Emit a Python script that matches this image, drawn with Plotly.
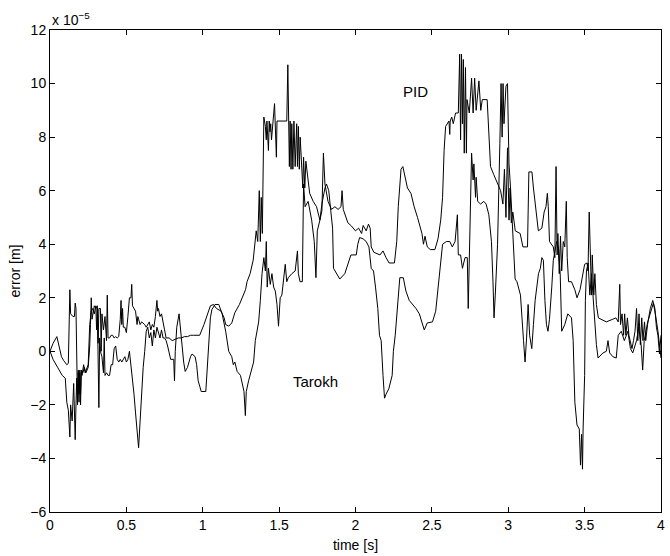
import plotly.graph_objects as go

# time [s], error [x1e-5 m] samples
PID = [(0,0),(0.02,0.3),(0.045,0.55),(0.06,0.2),(0.075,-0.2),(0.09,-0.35),(0.11,-0.5),(0.12,-0.45),(0.125,1.3),(0.13,2.3),(0.135,1.4),(0.15,1.3),(0.16,1.3),(0.165,1.8),(0.17,1.6),(0.175,-0.6),(0.18,-1.9),(0.185,-0.8),(0.19,-1.6),(0.195,-0.7),(0.2,-2.0),(0.205,-0.7),(0.215,-0.8),(0.225,-0.6),(0.235,-0.8),(0.25,-0.6),(0.26,0.2),(0.265,1.0),(0.27,2.0),(0.275,1.2),(0.285,1.5),(0.29,1.7),(0.3,1.6),(0.31,1.7),(0.315,0.3),(0.32,1.6),(0.33,1.6),(0.335,0.0),(0.34,1.4),(0.35,0.8),(0.36,1.3),(0.37,0.4),(0.375,2.1),(0.38,0.5),(0.39,0.5),(0.40,0.6),(0.41,0.6),(0.42,0.5),(0.43,0.55),(0.44,0.5),(0.45,0.55),(0.46,1.2),(0.465,1.9),(0.47,1.0),(0.475,1.6),(0.48,0.9),(0.49,0.9),(0.50,0.7),(0.51,1.3),(0.52,2.0),(0.53,2.0),(0.535,2.5),(0.54,1.7),(0.55,1.6),(0.56,1.5),(0.57,1.0),(0.575,1.3),(0.58,1.2),(0.59,1.0),(0.60,1.1),(0.62,1.0),(0.63,0.9),(0.64,1.0),(0.65,1.1),(0.66,0.8),(0.67,1.0),(0.68,0.9),(0.69,1.3),(0.70,1.9),(0.705,1.5),(0.71,1.6),(0.72,1.3),(0.73,1.4),(0.74,1.0),(0.75,0.8),(0.76,0.5),(0.78,0.5),(0.80,0.4),(0.82,0.45),(0.84,0.5),(0.86,0.5),(0.88,0.55),(0.90,0.55),(0.92,0.6),(0.94,0.6),(0.96,0.6),(0.98,0.6),
       (1.008,1.0),(1.03,1.4),(1.05,1.7),(1.07,1.75),(1.09,1.6),(1.12,1.5),(1.14,1.25),(1.15,1.0),(1.17,0.94),(1.19,1.06),(1.21,1.44),(1.24,1.75),(1.26,2.0),(1.28,2.3),(1.29,2.6),(1.31,2.9),(1.33,3.4),(1.34,4.0),(1.35,4.5),(1.36,4.1),(1.37,6.0),(1.377,4.1),(1.383,5.75),(1.39,4.4),(1.394,6.6),(1.40,8.75),(1.41,8.4),(1.416,7.9),(1.42,8.6),(1.43,7.5),(1.435,8.6),(1.44,8.2),(1.445,8.5),(1.45,7.9),(1.47,9.25),(1.475,8.2),(1.478,8.5),(1.482,7.25),(1.486,8.6),(1.50,8.6),(1.55,8.6),(1.557,10.7),(1.563,8.6),(1.567,6.9),(1.572,8.6),(1.578,6.8),(1.583,8.5),(1.59,6.8),(1.597,8.6),(1.605,6.9),(1.615,8.5),(1.62,6.9),(1.626,8.4),(1.632,6.8),(1.638,8.0),(1.648,7.0),(1.655,6.1),(1.66,7.25),(1.668,6.1),(1.675,7.1),(1.69,6.25),(1.70,5.9),(1.723,5.6),(1.745,5.4),(1.767,4.9),(1.78,5.25),(1.79,7.4),(1.80,6.25),(1.82,5.6),(1.843,5.3),(1.865,5.4),(1.886,5.3),(1.905,5.4),(1.912,6.0),(1.92,5.3),(1.95,4.8),(1.97,4.7),(2.0,4.5),
       (2.02,4.6),(2.04,4.4),(2.05,4.7),(2.07,4.5),(2.085,4.75),(2.096,4.6),(2.103,3.9),(2.12,3.7),(2.16,3.6),(2.18,3.75),(2.2,3.5),(2.22,3.3),(2.255,3.3),(2.27,4.1),(2.28,5.4),(2.298,6.8),(2.31,6.9),(2.326,6.4),(2.34,6.1),(2.363,5.9),(2.384,5.4),(2.406,5.0),(2.428,4.6),(2.435,4.4),(2.445,4.0),(2.455,4.3),(2.47,3.9),(2.49,3.8),(2.52,3.8),(2.54,4.2),(2.558,4.9),(2.57,5.75),(2.58,7.5),(2.59,8.4),(2.612,8.6),(2.617,8.1),(2.62,8.6),(2.63,8.75),(2.64,8.5),(2.655,8.9),(2.673,8.9),(2.682,11.1),(2.688,7.9),(2.694,11.1),(2.70,8.5),(2.706,10.9),(2.712,7.4),(2.72,10.6),(2.726,7.4),(2.73,9.4),(2.745,8.9),(2.76,10.2),(2.77,8.9),(2.78,10.2),(2.79,9.0),(2.808,10.1),(2.82,9.0),(2.83,9.4),(2.862,9.4),(2.873,7.9),(2.884,6.9),(2.905,6.6),(2.92,6.4),(2.935,6.2),(2.95,6.0),(2.965,5.5),(2.975,6.8),(2.985,5.0),(2.995,7.6),(3.005,4.9),(3.012,6.1),(3.02,4.8),(3.03,5.2),
       (3.046,4.5),(3.078,4.4),(3.096,3.9),(3.126,3.9),(3.135,6.7),(3.155,6.7),(3.165,6.1),(3.18,5.25),(3.197,4.5),(3.22,4.6),(3.235,5.2),(3.247,5.4),(3.256,5.9),(3.262,5.4),(3.27,4.1),(3.295,3.9),(3.305,3.5),(3.313,6.9),(3.32,3.6),(3.325,4.4),(3.334,2.9),(3.342,4.3),(3.35,3.0),(3.36,4.1),(3.37,3.9),(3.38,5.6),(3.386,3.5),(3.395,2.6),(3.414,2.6),(3.436,2.3),(3.45,2.0),(3.47,2.3),(3.486,2.9),(3.50,3.25),(3.516,3.3),(3.522,3.0),(3.53,5.2),(3.536,3.5),(3.545,2.1),(3.55,3.6),(3.56,2.1),(3.567,2.9),(3.577,1.75),(3.59,1.25),(3.642,1.1),(3.685,1.2),(3.705,1.25),(3.72,1.1),(3.73,2.5),(3.735,1.0),(3.745,1.4),(3.755,0.6),(3.762,1.4),(3.77,0.6),(3.78,1.25),(3.79,0.6),(3.81,0.1),(3.82,0.4),(3.83,0.75),(3.84,1.6),(3.848,0.4),(3.856,1.4),(3.865,0.25),(3.874,1.25),(3.882,0.4),(3.892,1.1),(3.9,0.4),(3.912,1.0),(3.93,1.6),(3.946,1.9),(3.96,1.6),(3.97,0.9),(3.98,0.6),(3.99,-0.1),(4.0,0.6)]

TAROKH = [(0,0),(0.02,-0.3),(0.05,-0.6),(0.08,-0.9),(0.1,-1.0),(0.11,-1.9),(0.12,-2.2),(0.13,-3.2),(0.135,-2.0),(0.145,-2.6),(0.155,-1.2),(0.16,-2.7),(0.165,-3.3),(0.17,-2.0),(0.175,-1.0),(0.18,-2.0),(0.185,-0.7),(0.19,-1.9),(0.195,-0.8),(0.2,-1.6),(0.205,-0.7),(0.21,-0.9),(0.22,-0.5),(0.23,-0.8),(0.24,-0.6),(0.25,-0.5),(0.26,1.0),(0.27,1.5),(0.28,1.6),(0.29,1.4),(0.3,1.7),(0.305,0.8),(0.31,1.6),(0.32,-2.1),(0.325,0.5),(0.33,0.0),(0.34,-0.2),(0.35,-0.8),(0.355,0.5),(0.36,-0.9),(0.37,-0.8),(0.38,-0.9),(0.39,-0.9),(0.40,-0.5),(0.41,-0.5),(0.42,0.1),(0.43,0.2),(0.44,-0.3),(0.45,-0.4),(0.46,-0.3),(0.47,-0.4),(0.48,-0.3),(0.49,-0.2),(0.5,-0.4),(0.51,-0.3),(0.52,0.0),(0.53,-0.5),(0.54,-1.1),(0.55,-1.6),(0.56,-2.3),(0.57,-3.0),(0.58,-3.6),(0.59,-2.6),(0.6,-1.5),(0.61,-0.6),(0.62,0.0),(0.63,0.75),(0.64,0.9),(0.65,0.5),(0.66,0.7),(0.67,0.2),(0.68,0.8),(0.69,0.5),(0.70,0.9),(0.71,0.7),(0.72,0.5),(0.73,0.8),(0.74,0.5),(0.75,0.5),(0.76,0.4),(0.77,0.2),(0.78,0.0),(0.79,-0.3),(0.81,-0.3),(0.815,-1.1),(0.82,0.0),(0.83,0.9),(0.845,1.4),(0.855,0.9),(0.865,0.2),(0.875,-0.4),(0.885,-0.75),(0.90,-0.6),(0.91,-0.4),(0.92,-0.2),(0.93,-0.1),(0.95,-0.2),(0.96,-0.5),(0.97,-1.1),(0.98,-1.3),(0.99,-1.5),(1.02,-1.5),
          (1.04,0.4),(1.05,1.25),(1.06,1.56),(1.08,1.75),(1.105,1.75),(1.127,1.4),(1.15,0.75),(1.17,0.0),(1.19,-0.2),(1.20,-0.5),(1.21,-0.4),(1.225,-0.75),(1.247,-0.9),(1.258,-1.25),(1.27,-1.5),(1.279,-2.4),(1.285,-1.5),(1.30,-1.1),(1.322,-0.6),(1.333,-0.4),(1.344,0.4),(1.355,0.75),(1.366,1.1),(1.377,1.9),(1.388,2.9),(1.40,3.5),(1.41,3.0),(1.416,4.1),(1.422,2.4),(1.43,3.1),(1.442,2.5),(1.453,2.9),(1.464,2.4),(1.475,2.25),(1.486,1.75),(1.496,0.94),(1.507,2.0),(1.518,2.1),(1.529,2.75),(1.54,3.25),(1.55,2.6),(1.56,2.75),(1.583,2.9),(1.605,3.0),(1.62,3.75),(1.626,2.9),(1.637,2.6),(1.652,2.6),(1.66,6.25),(1.67,5.4),(1.69,5.6),(1.713,4.9),(1.73,4.1),(1.741,2.75),(1.75,4.5),(1.767,4.9),(1.78,5.5),(1.80,6.1),(1.81,6.25),(1.825,6.0),(1.838,5.25),(1.85,4.6),(1.856,3.1),(1.875,2.9),(1.897,2.7),(1.93,2.9),(1.95,3.25),(1.97,3.6),(2.005,3.6),
          (2.015,4.0),(2.027,4.25),(2.05,4.2),(2.07,4.1),(2.088,3.9),(2.103,3.1),(2.118,3.0),(2.131,2.4),(2.146,1.6),(2.157,0.6),(2.168,0.4),(2.18,-0.9),(2.19,-1.75),(2.2,-1.6),(2.218,-1.4),(2.24,-0.9),(2.248,0.0),(2.26,0.6),(2.276,1.75),(2.29,2.75),(2.313,2.75),(2.33,2.25),(2.352,1.9),(2.374,1.75),(2.396,1.6),(2.418,1.4),(2.44,0.94),(2.45,0.8),(2.47,1.06),(2.504,1.1),(2.525,1.5),(2.543,2.6),(2.558,3.4),(2.57,4.0),(2.595,4.1),(2.617,4.1),(2.634,3.9),(2.652,4.1),(2.667,5.1),(2.673,3.6),(2.688,3.6),(2.70,3.1),(2.717,3.5),(2.732,3.5),(2.738,1.6),(2.745,3.5),(2.754,5.4),(2.76,7.4),(2.77,6.4),(2.775,7.0),(2.786,5.75),(2.79,6.5),(2.80,5.6),(2.819,5.5),(2.84,5.6),(2.855,5.5),(2.873,5.1),(2.89,4.1),(2.90,2.6),(2.907,1.25),(2.915,2.1),(2.93,4.0),(2.945,7.75),(2.953,10.0),(2.96,8.0),(2.966,10.0),(2.972,8.5),(2.985,9.9),(2.995,10.0),(3.005,7.0),(3.015,6.1),(3.025,4.9),(3.035,3.5),(3.045,2.7),
          (3.057,2.6),(3.08,2.1),(3.10,0.4),(3.11,-0.4),(3.12,0.5),(3.13,1.75),(3.14,0.6),(3.154,0.1),(3.165,1.0),(3.176,1.9),(3.198,2.9),(3.21,3.1),(3.22,3.5),(3.23,3.4),(3.24,1.9),(3.25,1.0),(3.26,0.75),(3.27,1.2),(3.285,2.4),(3.295,3.4),(3.317,4.1),(3.33,3.8),(3.34,2.9),(3.35,0.75),(3.37,1.0),(3.39,1.4),(3.414,1.25),(3.425,0.4),(3.436,-1.9),(3.45,-2.75),(3.465,-2.9),(3.473,-4.25),(3.48,-3.1),(3.486,-4.4),(3.49,-2.9),(3.50,-0.9),(3.505,1.9),(3.512,3.0),(3.523,3.3),(3.534,2.1),(3.545,2.9),(3.556,1.9),(3.57,0.9),(3.577,0.25),(3.588,-0.25),(3.62,-0.06),(3.642,0.0),(3.653,0.4),(3.664,-0.06),(3.685,-0.2),(3.707,-0.25),(3.72,0.6),(3.74,0.75),(3.76,0.4),(3.783,0.75),(3.80,0.1),(3.815,-0.06),(3.84,0.4),(3.854,0.9),(3.87,0.25),(3.88,-0.7),(3.89,0.4),(3.913,1.1),(3.935,1.5),(3.95,1.8),(3.963,1.4),(3.98,0.75),(4.0,-0.25)]

x_ticks = [0, 0.5, 1, 1.5, 2, 2.5, 3, 3.5, 4]
x_tick_labels = ["0", "0.5", "1", "1.5", "2", "2.5", "3", "3.5", "4"]
y_ticks = [-6, -4, -2, 0, 2, 4, 6, 8, 10, 12]
y_tick_labels = ["\u22126", "\u22124", "\u22122", "0", "2", "4", "6", "8", "10", "12"]

t_pid = [p[0] for p in PID]
e_pid = [p[1] for p in PID]
t_tar = [p[0] for p in TAROKH]
e_tar = [p[1] for p in TAROKH]

FONT = "Liberation Sans, Arial, Helvetica, sans-serif"

fig = go.Figure()
fig.add_trace(go.Scatter(x=t_pid, y=e_pid, mode="lines", name="PID",
                         line=dict(color="black", width=1)))
fig.add_trace(go.Scatter(x=t_tar, y=e_tar, mode="lines", name="Tarokh",
                         line=dict(color="black", width=1)))

axis_common = dict(showgrid=False, zeroline=False, showline=True, linecolor="black",
                   linewidth=1, mirror="ticks", ticks="inside", ticklen=5,
                   tickcolor="black", tickwidth=1,
                   tickfont=dict(family=FONT, size=14, color="black"))

fig.update_xaxes(range=[0, 4], tickvals=x_ticks, ticktext=x_tick_labels,
                 title=dict(text="time [s]", font=dict(family=FONT, size=14, color="black"), standoff=8),
                 **axis_common)
fig.update_yaxes(range=[-6, 12], tickvals=y_ticks, ticktext=y_tick_labels,
                 title=dict(text="error [m]", font=dict(family=FONT, size=14, color="black"), standoff=6),
                 **axis_common)

fig.add_annotation(x=2.39, y=9.7, text="PID", showarrow=False,
                   font=dict(family=FONT, size=15, color="black"))
fig.add_annotation(x=1.74, y=-1.12, text="Tarokh", showarrow=False,
                   font=dict(family=FONT, size=15, color="black"))
fig.add_annotation(xref="paper", yref="paper", x=0, y=1, xanchor="left", yanchor="bottom",
                   text="x 10<sup>\u22125</sup>", showarrow=False,
                   font=dict(family=FONT, size=14, color="black"))

fig.update_layout(width=670, height=556, margin=dict(l=50, r=5, t=30, b=44),
                  paper_bgcolor="white", plot_bgcolor="white", showlegend=False,
                  font=dict(family=FONT, size=14, color="black"))

fig.write_html("out.html")
